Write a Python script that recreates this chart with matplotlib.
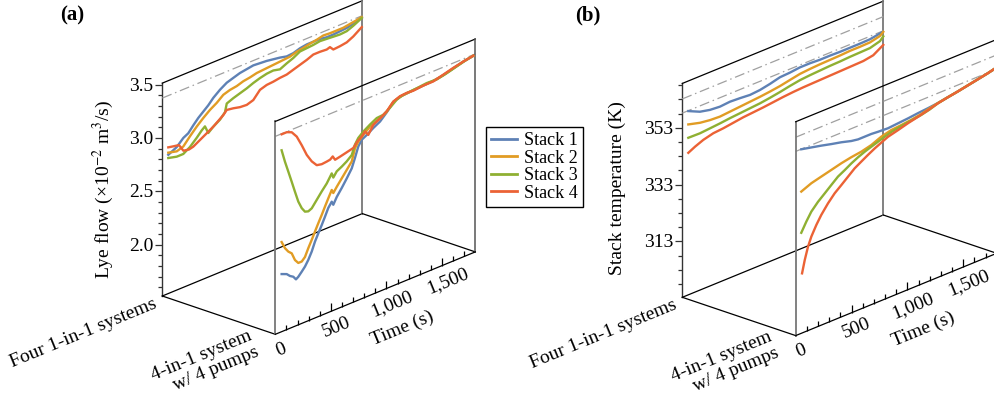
import numpy as np
import matplotlib
matplotlib.use("Agg")
import matplotlib.pyplot as plt
from matplotlib.transforms import Affine2D
from matplotlib.lines import Line2D

plt.rcParams['font.family'] = ['Liberation Serif', 'DejaVu Serif']
plt.rcParams['mathtext.fontset'] = 'stix'

# === data ===
STACKS = ["Stack 1", "Stack 2", "Stack 3", "Stack 4"]
COLORS = ["#5E81B5", "#E19C24", "#8FB032", "#EB6235"]
PLANES = ["Four 1-in-1 systems", "4-in-1 system\nw/ 4 pumps"]
TIME_TICKS = [0, 500, 1000, 1500]
TIME_LABELS = ["0", "500", "1,000", "1,500"]
T_MAX = 1800

# (a) lye flow, back plane (four 1-in-1 systems)
a_back_t1 = [54, 130, 189, 234, 279, 324, 369, 414, 459, 519, 580, 639, 699, 760, 819, 879, 940, 999,
             1059, 1120, 1179, 1239, 1300, 1359, 1419, 1480, 1539, 1599, 1660, 1719, 1795]
a_back_v1 = [2.82, 2.86, 2.92, 2.945, 3.00, 3.05, 3.09, 3.13, 3.18, 3.23, 3.27, 3.29, 3.31, 3.32, 3.33,
             3.325, 3.32, 3.31, 3.30, 3.285, 3.29, 3.31, 3.32, 3.32, 3.32, 3.31, 3.31, 3.315, 3.32, 3.335, 3.365]
a_back_t2 = [54, 130, 189, 249, 310, 369, 429, 490, 549, 609, 670, 729, 789, 850, 909, 969, 1030, 1089,
             1149, 1210, 1269, 1329, 1390, 1449, 1509, 1570, 1629, 1689, 1750, 1795]
a_back_v2 = [2.84, 2.82, 2.84, 2.91, 2.975, 3.03, 3.08, 3.12, 3.17, 3.19, 3.20, 3.22, 3.23, 3.245, 3.25,
             3.255, 3.26, 3.265, 3.27, 3.29, 3.30, 3.315, 3.325, 3.34, 3.335, 3.335, 3.335, 3.345, 3.355, 3.365]
a_back_t3 = [54, 130, 189, 249, 310, 355, 384, 414, 459, 519, 564, 580, 639, 699, 760, 819, 879, 940, 999,
             1059, 1120, 1179, 1239, 1300, 1359, 1419, 1480, 1539, 1599, 1660, 1719, 1795]
a_back_v3 = [2.79, 2.77, 2.77, 2.81, 2.87, 2.92, 2.945, 2.87, 2.91, 2.95, 3.00, 3.075, 3.10, 3.12, 3.14,
             3.165, 3.185, 3.20, 3.205, 3.19, 3.22, 3.245, 3.28, 3.285, 3.29, 3.30, 3.295, 3.29, 3.285,
             3.29, 3.315, 3.355]
a_back_t4 = [54, 100, 150, 190, 240, 279, 369, 459, 549, 580, 639, 699, 760, 819, 879, 940, 999, 1059,
             1120, 1179, 1239, 1300, 1359, 1419, 1480, 1509, 1539, 1599, 1660, 1719, 1795]
a_back_v4 = [2.89, 2.88, 2.87, 2.80, 2.79, 2.80, 2.855, 2.91, 2.98, 3.015, 3.005, 2.99, 2.985, 3.005,
             3.075, 3.095, 3.10, 3.11, 3.115, 3.135, 3.155, 3.175, 3.20, 3.20, 3.195, 3.205, 3.17, 3.175,
             3.185, 3.215, 3.27]

# (a) lye flow, front plane (4-in-1 system w/ 4 pumps)
a_front_t1 = [57, 103, 132, 162, 186, 207, 238, 267, 297, 328, 357, 387, 418, 447, 477, 508, 522, 553,
              598, 643, 688, 717, 747, 778, 823, 882, 943, 1003, 1062, 1122, 1183, 1242, 1332, 1422,
              1512, 1602, 1692, 1782]
a_front_v1 = [2.06, 2.04, 2.01, 1.99, 1.955, 1.97, 2.005, 2.04, 2.09, 2.155, 2.235, 2.30, 2.365, 2.43,
              2.50, 2.545, 2.51, 2.57, 2.635, 2.705, 2.78, 2.865, 2.96, 3.01, 3.035, 3.075, 3.11, 3.17,
              3.24, 3.265, 3.27, 3.275, 3.28, 3.285, 3.30, 3.325, 3.35, 3.365]
a_front_t2 = [57, 87, 117, 148, 177, 207, 238, 267, 297, 328, 357, 387, 418, 447, 477, 508, 522, 553,
              598, 643, 688, 717, 747, 792, 852, 943, 1003, 1062, 1122, 1183, 1242, 1332, 1422, 1512,
              1602, 1692, 1782]
a_front_v2 = [2.36, 2.29, 2.245, 2.215, 2.14, 2.10, 2.10, 2.13, 2.20, 2.265, 2.33, 2.395, 2.46, 2.525,
              2.59, 2.655, 2.62, 2.665, 2.725, 2.785, 2.845, 2.955, 3.005, 3.05, 3.10, 3.14, 3.175,
              3.245, 3.265, 3.27, 3.275, 3.28, 3.285, 3.30, 3.325, 3.35, 3.365]
a_front_t3 = [57, 87, 117, 148, 177, 207, 238, 267, 297, 328, 373, 418, 463, 493, 508, 522, 553, 598,
              643, 688, 717, 747, 792, 852, 913, 972, 1032, 1093, 1152, 1212, 1273, 1363, 1453, 1543,
              1633, 1723, 1782]
a_front_v3 = [3.22, 3.10, 2.995, 2.885, 2.78, 2.675, 2.60, 2.555, 2.545, 2.56, 2.62, 2.68, 2.735, 2.785,
              2.81, 2.765, 2.81, 2.835, 2.865, 2.905, 2.99, 3.04, 3.08, 3.12, 3.155, 3.16, 3.20, 3.25,
              3.27, 3.275, 3.28, 3.29, 3.285, 3.305, 3.33, 3.355, 3.367]
a_front_t4 = [57, 103, 148, 193, 238, 283, 328, 373, 418, 463, 493, 517, 538, 583, 643, 702, 738, 778,
              808, 837, 882, 943, 1003, 1062, 1122, 1183, 1242, 1332, 1422, 1512, 1602, 1692, 1782]
a_front_v4 = [3.37, 3.37, 3.35, 3.29, 3.19, 3.08, 3.00, 2.945, 2.935, 2.94, 2.945, 2.965, 2.925, 2.935,
              2.95, 2.965, 3.01, 3.04, 3.075, 3.03, 3.105, 3.14, 3.18, 3.245, 3.27, 3.275, 3.27, 3.28,
              3.28, 3.305, 3.33, 3.35, 3.367]

# (b) stack temperature, back plane
b_back_t1 = [54, 158, 248, 337, 427, 517, 606, 696, 785, 875, 964, 1054, 1144, 1233, 1323, 1412, 1502,
             1591, 1681, 1786]
b_back_v1 = [358.0, 356.1, 355.3, 355.0, 355.3, 355.1, 354.8, 355.1, 355.8, 356.7, 356.9, 357.3, 357.3,
             357.1, 357.1, 357.0, 357.0, 357.0, 357.1, 357.8]
b_back_t2 = [54, 158, 248, 337, 427, 517, 606, 696, 785, 875, 964, 1054, 1144, 1233, 1323, 1412, 1502,
             1591, 1681, 1770, 1800]
b_back_v2 = [353.3, 352.2, 351.7, 351.5, 351.8, 352.1, 352.4, 352.7, 353.1, 353.6, 354.3, 355.0, 355.3,
             355.5, 355.6, 355.7, 355.9, 355.9, 356.0, 356.8, 357.8]
b_back_t3 = [54, 158, 248, 337, 427, 517, 606, 696, 785, 875, 964, 1054, 1144, 1233, 1323, 1412, 1502,
             1591, 1681, 1770, 1800]
b_back_v3 = [348.6, 348.5, 348.8, 349.1, 349.5, 349.8, 350.1, 350.4, 350.9, 351.5, 352.2, 352.8, 353.1,
             353.3, 353.5, 353.6, 353.8, 353.9, 354.0, 355.0, 356.2]
b_back_t4 = [54, 114, 188, 278, 367, 457, 546, 636, 725, 815, 904, 994, 1084, 1173, 1263, 1352, 1442,
             1531, 1621, 1710, 1800]
b_back_v4 = [343.3, 344.5, 345.7, 346.6, 346.9, 347.4, 347.9, 348.2, 348.5, 348.9, 349.3, 349.6, 349.8,
             349.9, 350.0, 350.1, 350.2, 350.3, 350.4, 351.0, 353.2]

# (b) stack temperature, front plane
b_front_t1 = [50, 140, 229, 319, 408, 498, 558, 618, 677, 737, 827, 916, 1006, 1095, 1185, 1274, 1364,
              1453, 1543, 1633, 1722, 1782]
b_front_v1 = [358.1, 357.3, 356.5, 355.6, 354.8, 353.8, 353.4, 353.4, 353.4, 353.2, 353.0, 353.3, 353.6,
              354.0, 354.3, 354.7, 355.3, 355.9, 356.6, 357.3, 358.0, 358.6]
b_front_t2 = [50, 140, 229, 319, 408, 498, 587, 677, 766, 856, 945, 1035, 1125, 1185, 1274, 1364, 1453,
              1543, 1633, 1722, 1782]
b_front_v2 = [343.2, 344.7, 345.6, 346.5, 347.4, 348.1, 348.6, 349.5, 351.0, 351.9, 352.2, 352.6, 353.2,
              353.9, 354.7, 355.3, 355.9, 356.6, 357.3, 358.0, 358.6]
b_front_t3 = [50, 95, 140, 200, 260, 319, 379, 439, 498, 558, 618, 677, 737, 797, 856, 945, 1035, 1125,
              1200, 1274, 1364, 1453, 1543, 1633, 1722, 1782]
b_front_v3 = [328.7, 331.9, 334.7, 337.2, 339.2, 341.2, 343.2, 344.5, 345.9, 347.1, 348.1, 348.9, 349.7,
              350.5, 351.2, 351.9, 352.4, 352.9, 353.6, 354.6, 355.3, 355.9, 356.6, 357.3, 358.0, 358.6]
b_front_t4 = [57, 81, 110, 140, 185, 229, 289, 349, 408, 468, 528, 587, 647, 707, 766, 827, 916, 1006,
              1095, 1185, 1274, 1364, 1453, 1543, 1633, 1722, 1782]
b_front_v4 = [314.3, 318.6, 322.8, 325.9, 329.3, 332.1, 335.2, 337.8, 339.7, 341.7, 343.7, 345.1, 346.5,
              347.8, 348.9, 350.0, 350.9, 351.9, 352.7, 353.6, 354.6, 355.3, 355.9, 356.6, 357.3, 358.0,
              358.6]

A_REF = [3.375]              # dash-dot reference (lye flow)
B_REF = [358.15, 363.15]     # dash-dot reference (temperature)

fig = plt.figure(figsize=(9.95, 3.99), dpi=100)
ax = fig.add_axes([0, 0, 1, 1])
ax.set_xlim(0, 995)
ax.set_ylim(399, 0)
ax.axis('off')

ANG = np.degrees(np.arctan2(82.4, 200))


def plane_transforms(ox, oy, tw, th, dx, dy, vmin, pxv):
    # oblique projection: time runs up-right, the front plane is shifted by (dx, dy)
    tfs = []
    for d in (0, 1):
        m = np.array([[tw / T_MAX, 0.0, ox + d * dx],
                      [-th / T_MAX, -pxv, oy + d * dy + vmin * pxv],
                      [0, 0, 1]])
        tfs.append(Affine2D(m) + ax.transData)
    return tfs


def draw_panel(geo, vmin, vmax, major, minor, fmt, ylabel, ylabel_xy, tag, tag_xy,
               curves, refs):
    ox, oy, tw, th, dx, dy, pxv = geo
    back, front = plane_transforms(ox, oy, tw, th, dx, dy, vmin, pxv)

    # back plane frame
    ax.plot([0, 0], [vmin, vmax], color='#333333', lw=1.0, transform=back)
    ax.plot([0, T_MAX], [vmax, vmax], color='black', lw=0.9, transform=back)
    ax.plot([0, T_MAX], [vmin, vmin], color='black', lw=0.9, transform=back)
    ax.plot([T_MAX, T_MAX], [vmin, vmax], color='#777777', lw=1.3, transform=back)
    # floor edges between the planes
    for t in (0, T_MAX):
        ax.plot([ox + t / T_MAX * tw, ox + t / T_MAX * tw + dx],
                [oy - t / T_MAX * th, oy - t / T_MAX * th + dy], color='black', lw=0.9)

    # value ticks on back plane
    ax.plot(np.zeros(len(major)), major, ls='none', marker=0, ms=5, mew=0.9,
            color='#333333', transform=back)
    ax.plot(np.zeros(len(minor)), minor, ls='none', marker=0, ms=3, mew=0.9,
            color='#333333', transform=back)
    for v in major:
        ax.annotate(fmt(v), xy=(0, v), xycoords=back, xytext=(-9, -1.5),
                    textcoords='offset pixels', ha='right', va='center', fontsize=14)

    for r in refs:
        for tf in (back, front):
            ax.plot([0, T_MAX], [r, r], color='#a0a0a0', lw=0.9,
                    ls=(0, (8, 3, 1.2, 3)), transform=tf)

    for (t, v), c in zip(curves[0], COLORS):
        ax.plot(t, v, color=c, lw=1.7, transform=back)

    # front plane frame
    ax.plot([0, 0], [vmin, vmax], color='#777777', lw=1.3, transform=front)
    ax.plot([0, T_MAX], [vmax, vmax], color='black', lw=0.9, transform=front)
    ax.plot([T_MAX, T_MAX], [vmin, vmax], color='#555555', lw=1.1, transform=front)
    ax.plot([0, T_MAX], [vmin, vmin], color='black', lw=0.9, transform=front)

    for (t, v), c in zip(curves[1], COLORS):
        ax.plot(t, v, color=c, lw=1.7, transform=front)

    # time ticks
    t_minor = [t for t in range(100, T_MAX, 100) if t not in TIME_TICKS]
    ax.plot(TIME_TICKS[1:], [vmin] * 3, ls='none', marker=2, ms=6, mew=0.9,
            color='black', transform=front)
    ax.plot(t_minor, [vmin] * len(t_minor), ls='none', marker=2, ms=3.5, mew=0.9,
            color='black', transform=front)
    for t, lab in zip(TIME_TICKS, TIME_LABELS):
        ax.annotate(lab, xy=(t, vmin), xycoords=front, xytext=(5.5, -15.5),
                    textcoords='offset pixels', ha='center', va='center',
                    rotation=ANG, rotation_mode='anchor', fontsize=14)
    ax.annotate("Time (s)", xy=(1140, vmin), xycoords=front, xytext=(0, -46),
                textcoords='offset pixels', ha='center', va='center',
                rotation=ANG, rotation_mode='anchor', fontsize=14)

    # system labels along the depth direction
    ax.annotate(PLANES[0], xy=(0, vmin), xycoords=back, xytext=(-6, -7),
                textcoords='offset pixels', ha='right', va='center',
                rotation=ANG, rotation_mode='anchor', fontsize=14)
    ax.annotate(PLANES[1], xy=(0, vmin), xycoords=front, xytext=(-21, -9),
                textcoords='offset pixels', ha='right', va='center', ma='right',
                rotation=ANG, rotation_mode='anchor', fontsize=14, linespacing=1.05)

    ax.text(*ylabel_xy, ylabel, rotation=90, ha='center', va='center', fontsize=14)
    ax.text(*tag_xy, tag, ha='center', va='center', fontsize=15, fontweight='bold')


a_curves = [[(a_back_t1, a_back_v1), (a_back_t2, a_back_v2), (a_back_t3, a_back_v3), (a_back_t4, a_back_v4)],
            [(a_front_t1, a_front_v1), (a_front_t2, a_front_v2), (a_front_t3, a_front_v3),
             (a_front_t4, a_front_v4)]]
b_curves = [[(b_back_t1, b_back_v1), (b_back_t2, b_back_v2), (b_back_t3, b_back_v3), (b_back_t4, b_back_v4)],
            [(b_front_t1, b_front_v1), (b_front_t2, b_front_v2), (b_front_t3, b_front_v3),
             (b_front_t4, b_front_v4)]]

a_major = [2.0, 2.5, 3.0, 3.5]
a_minor = [round(1.6 + 0.1 * i, 1) for i in range(20) if round(1.6 + 0.1 * i, 1) not in a_major]
draw_panel((162.3, 296.0, 200, 82.4, 113, 38.3, 106.7), 1.52, 3.515, a_major, a_minor,
           lambda v: f"{v:.1f}", "Lye flow (×10$^{-2}$ m$^{3}$/s)", (103, 189), "(a)", (72, 15),
           a_curves, A_REF)

b_major = [313, 333, 353]
b_minor = [v for v in range(298, 369, 5) if v not in b_major]
draw_panel((682.3, 297.3, 201, 82.3, 113.4, 38.3, 2.84), 293.3, 368.6, b_major, b_minor,
           lambda v: f"{v:d}", "Stack temperature (K)", (617, 188), "(b)", (588, 15),
           b_curves, B_REF)

handles = [Line2D([], [], color=c, lw=2) for c in COLORS]
fig.legend(handles, STACKS, loc='upper left', bbox_to_anchor=(486 / 995, 1 - 127 / 399),
           frameon=True, fancybox=False, edgecolor='black', framealpha=1, fontsize=13,
           handlelength=1.4, handletextpad=0.4, borderpad=0.3, labelspacing=0.02,
           borderaxespad=0)

fig.savefig("out.png", dpi=100)
